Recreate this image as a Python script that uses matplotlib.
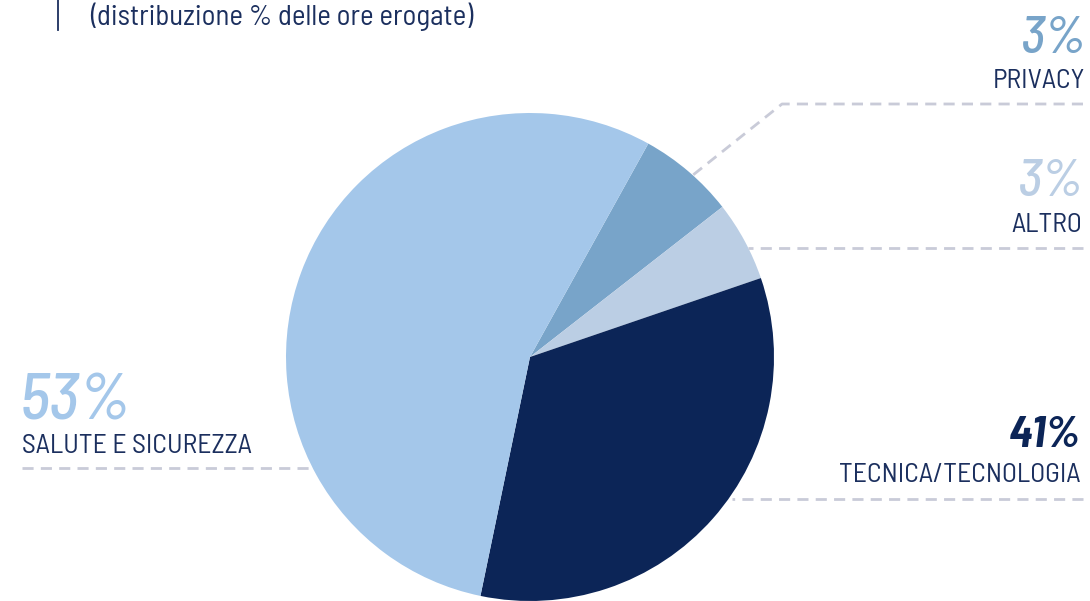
import matplotlib
matplotlib.use("Agg")
import matplotlib.pyplot as plt

# ---- data ----
categories = ["PRIVACY", "ALTRO", "TECNICA/TECNOLOGIA", "SALUTE E SICUREZZA"]
slice_values = [6.4, 5.3, 33.5, 54.8]          # as drawn in the picture
pct_labels = ["3%", "3%", "41%", "53%"]         # as printed in the picture
title_text = "(distribuzione % delle ore erogate)"

# ---- style ----
colors = ["#78A4C9", "#BBCEE4", "#0C2557", "#A4C7EA"]
navy = "#1B2F5E"
dash_col = "#C9CBD8"
FONT = ["Barlow Semi Condensed", "Liberation Sans", "DejaVu Sans"]

W, H = 1090, 601
fig = plt.figure(figsize=(W / 100, H / 100), dpi=100)
ax = fig.add_axes([0, 0, 1, 1])

def Y(py):
    return H - py

# pie
cx, cy, r = 530, 357, 244
ax.pie(slice_values, colors=colors, startangle=61.0, counterclock=False,
       center=(cx, Y(cy)), radius=r, frame=True,
       wedgeprops=dict(linewidth=0, antialiased=True))
ax.set_xlim(0, W)
ax.set_ylim(0, H)
ax.set_aspect("auto")
ax.axis("off")

# title + vertical rule
ax.text(90, Y(25), title_text, fontsize=20.8, color=navy, family=FONT,
        ha="left", va="baseline")
ax.plot([58, 58], [Y(-2), Y(30)], color=navy, lw=1.3)

# dashed leader lines
dkw = dict(color=dash_col, lw=2, dashes=(4, 2.6), solid_capstyle="butt")
ax.plot([1083, 782, 693], [Y(104), Y(104), Y(175)], **dkw)
ax.plot([1083, 748], [Y(248), Y(248)], **dkw)
ax.plot([22, 312], [Y(468), Y(468)], **dkw)
ax.plot([1083, 732], [Y(499), Y(499)], **dkw)

# labels
pkw = dict(style="italic", weight=500, family=FONT, va="baseline")
lkw = dict(fontsize=20, color=navy, family=FONT, va="baseline")

ax.text(1086, Y(53), pct_labels[0], fontsize=38, color=colors[0], ha="right", **pkw)
ax.text(1085, Y(88), categories[0], ha="right", **lkw)

ax.text(1083, Y(196), pct_labels[1], fontsize=38, color=colors[1], ha="right", **pkw)
ax.text(1082, Y(232), categories[1], ha="right", **lkw)

ax.text(1081, Y(447), pct_labels[2], fontsize=32, style="italic", weight="bold",
        color=colors[2], family=FONT, ha="right", va="baseline")
ax.text(1081, Y(482), categories[2], ha="right", **lkw)

ax.text(20, Y(420), pct_labels[3], fontsize=47, color=colors[3], ha="left", **pkw)
ax.text(22, Y(453), categories[3], ha="left", **lkw)

fig.savefig("out.png", dpi=100)
